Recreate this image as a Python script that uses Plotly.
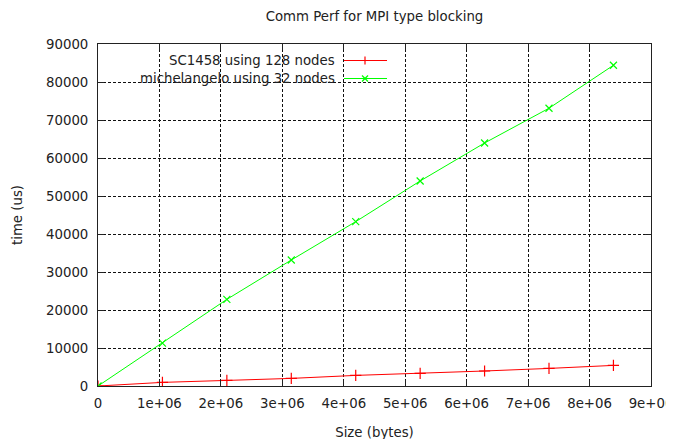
import plotly.graph_objects as go

sizes = [0, 1048576, 2097152, 3145728, 4194304, 5242880, 6291456, 7340032, 8388608]
sc1458_time = [0, 950, 1470, 2000, 2790, 3320, 3950, 4630, 5420]
michelangelo_time = [0, 11300, 22800, 33150, 43250, 53950, 63950, 73100, 84400]
series_names = ["SC1458 using 128 nodes", "michelangelo using 32 nodes"]
x_tickvals = [0, 1e6, 2e6, 3e6, 4e6, 5e6, 6e6, 7e6, 8e6, 9e6]
x_ticktext = ["0", "1e+06", "2e+06", "3e+06", "4e+06", "5e+06", "6e+06", "7e+06", "8e+06", "9e+06"]
y_tickvals = [0, 10000, 20000, 30000, 40000, 50000, 60000, 70000, 80000, 90000]

FONT = "DejaVu Sans"
FS = 13.3
RED = "#ff0000"
GREEN = "#00ff00"
TXT = "#222"
OFF = 8  # page body margin offset

fig = go.Figure()
fig.add_trace(go.Scatter(x=sizes, y=sc1458_time, mode="lines+markers", name=series_names[0],
                         line=dict(color=RED, width=1),
                         marker=dict(symbol="cross-thin", size=8, line=dict(color=RED, width=1.2))))
fig.add_trace(go.Scatter(x=sizes, y=michelangelo_time, mode="lines+markers", name=series_names[1],
                         line=dict(color=GREEN, width=1),
                         marker=dict(symbol="x-thin", size=7, line=dict(color=GREEN, width=1.2))))

axis_common = dict(showline=True, linecolor="#222", linewidth=1, mirror="allticks",
                   ticks="inside", ticklen=6, tickcolor="#222", tickwidth=1,
                   showgrid=True, gridcolor="#111", griddash="3px,2px", gridwidth=1,
                   zeroline=False, automargin=False,
                   tickfont=dict(family=FONT, size=FS, color=TXT))

fig.update_xaxes(range=[0, 9e6], tickvals=x_tickvals, ticktext=x_ticktext, ticklabelstandoff=5,
                 title=dict(text="Size (bytes)", font=dict(family=FONT, size=FS, color=TXT), standoff=17),
                 **axis_common)
fig.update_yaxes(range=[0, 90000], tickvals=y_tickvals, tickformat="d", ticklabelstandoff=6,
                 title=dict(text="time (us)", font=dict(family=FONT, size=FS, color=TXT), standoff=20),
                 **axis_common)

plot_l, plot_r, plot_t, plot_b = 98, 651, 44, 386
W = plot_r - plot_l
H = plot_b - plot_t
def px(xp):
    return (xp - plot_l) / W
def py(yp):
    return (plot_b - yp) / H

shapes = []
annotations = []
shapes.append(dict(type="rect", xref="paper", yref="paper", x0=0, x1=px(392), y0=py(88), y1=1,
                   fillcolor="white", line=dict(width=0), layer="between"))

legend_rows = [(series_names[0], RED, "+"), (series_names[1], GREEN, "x")]
for i, (name, col, sym) in enumerate(legend_rows):
    yrow = 60.5 + i * 18
    annotations.append(dict(x=px(337), y=py(yrow), xref="paper", yref="paper", text=name,
                            showarrow=False, xanchor="right", yanchor="middle",
                            font=dict(family=FONT, size=FS, color=TXT)))
    shapes.append(dict(type="line", xref="paper", yref="paper", x0=px(344), x1=px(387),
                       y0=py(yrow), y1=py(yrow), line=dict(color=col, width=1)))
    cx = 365
    if sym == "+":
        shapes.append(dict(type="line", xref="paper", yref="paper", x0=px(cx), x1=px(cx),
                           y0=py(yrow - 4), y1=py(yrow + 4), line=dict(color=col, width=1.2)))
    else:
        shapes.append(dict(type="line", xref="paper", yref="paper", x0=px(cx - 3), x1=px(cx + 3),
                           y0=py(yrow - 3), y1=py(yrow + 3), line=dict(color=col, width=1.2)))
        shapes.append(dict(type="line", xref="paper", yref="paper", x0=px(cx - 3), x1=px(cx + 3),
                           y0=py(yrow + 3), y1=py(yrow - 3), line=dict(color=col, width=1.2)))

fig_w, fig_h = 674, 439
fig.update_layout(
    width=fig_w, height=fig_h,
    margin=dict(l=plot_l - OFF, r=fig_w - (plot_r - OFF), t=plot_t - OFF, b=fig_h - (plot_b - OFF),
                autoexpand=False),
    paper_bgcolor="white", plot_bgcolor="white",
    showlegend=False,
    title=dict(text="Comm Perf for MPI type blocking", x=((plot_l + plot_r) / 2 - OFF) / fig_w,
               xanchor="center", y=1 - (16 - OFF) / fig_h, yanchor="middle",
               font=dict(family=FONT, size=FS, color=TXT)),
    shapes=shapes, annotations=annotations,
    font=dict(family=FONT, size=FS, color=TXT),
)

fig.write_html("out.html")
